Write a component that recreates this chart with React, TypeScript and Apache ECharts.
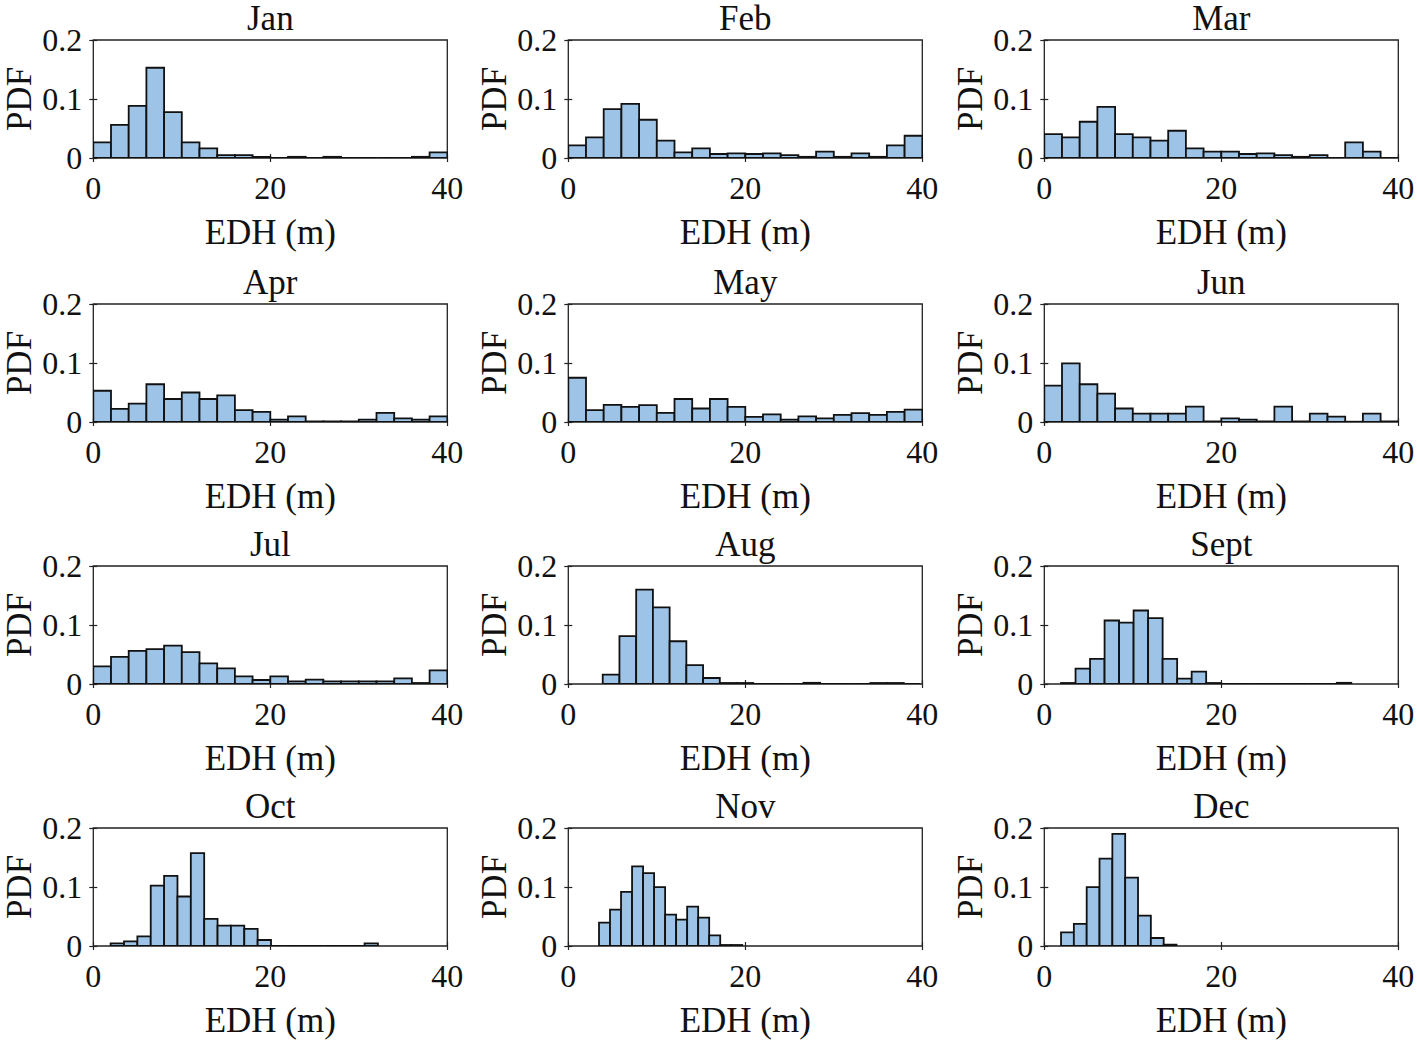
import React, { useEffect, useRef } from "react";
import * as echarts from "echarts";

const months = ["Jan", "Feb", "Mar", "Apr", "May", "Jun", "Jul", "Aug", "Sept", "Oct", "Nov", "Dec"];

// PDF value of each histogram bin
const janPdf = [0.0265, 0.0563, 0.0885, 0.153, 0.0777, 0.0265, 0.0163, 0.005, 0.005, 0.002, 0, 0.002, 0, 0.002, 0, 0, 0, 0, 0.002, 0.0096];
const febPdf = [0.0214, 0.035, 0.0828, 0.0918, 0.0648, 0.0293, 0.0096, 0.0163, 0.0068, 0.0079, 0.0068, 0.0079, 0.005, 0.002, 0.0107, 0.002, 0.0079, 0.002, 0.0214, 0.0377];
const marPdf = [0.0406, 0.035, 0.0614, 0.0868, 0.0406, 0.035, 0.0293, 0.0462, 0.0163, 0.0107, 0.0107, 0.0068, 0.0079, 0.005, 0.002, 0.005, 0, 0.0265, 0.0107, 0];
const aprPdf = [0.053, 0.0223, 0.031, 0.064, 0.039, 0.05, 0.039, 0.045, 0.02, 0.017, 0.004, 0.0097, 0.001, 0.001, 0.001, 0.004, 0.0154, 0.0063, 0.004, 0.0097];
const mayPdf = [0.075, 0.02, 0.029, 0.0257, 0.0286, 0.0154, 0.039, 0.0229, 0.039, 0.0257, 0.0086, 0.013, 0.004, 0.0097, 0.0063, 0.012, 0.0149, 0.012, 0.017, 0.021];
const junPdf = [0.0617, 0.0994, 0.064, 0.048, 0.0229, 0.0143, 0.0143, 0.0143, 0.026, 0.001, 0.0063, 0.004, 0.001, 0.026, 0.001, 0.0143, 0.009, 0.0005, 0.0143, 0.001];
const julPdf = [0.03, 0.046, 0.056, 0.059, 0.065, 0.054, 0.035, 0.0266, 0.013, 0.0068, 0.013, 0.0045, 0.0074, 0.0045, 0.0045, 0.0045, 0.0045, 0.0096, 0.0017, 0.023];
const augPdf = [0.0159, 0.081, 0.16, 0.13, 0.0725, 0.032, 0.0102, 0.0017, 0.0017, 0, 0, 0, 0.002, 0, 0, 0, 0.0017, 0.0017, 0];
const sepPdf = [0.0017, 0.026, 0.0425, 0.1076, 0.104, 0.1246, 0.1116, 0.0425, 0.009, 0.021, 0.0017, 0, 0, 0, 0, 0, 0, 0, 0, 0.002];
const octPdf = [0.0045, 0.0079, 0.0164, 0.1025, 0.119, 0.0839, 0.1575, 0.0459, 0.0346, 0.0346, 0.0289, 0.0102, 0, 0, 0, 0, 0, 0, 0, 0.0045];
const novPdf = [0.0397, 0.0618, 0.0918, 0.1348, 0.1235, 0.0997, 0.0533, 0.0448, 0.0669, 0.0482, 0.0181, 0.0017, 0.0017];
const decPdf = [0.0232, 0.0374, 0.0997, 0.148, 0.19, 0.116, 0.0516, 0.0136, 0.0023];

const monthPdf = [janPdf, febPdf, marPdf, aprPdf, mayPdf, junPdf, julPdf, augPdf, sepPdf, octPdf, novPdf, decPdf];

// Histogram bin definitions (first edge and bin width, metres)
const binStart = [0, 0, 0, 0, 0, 0, 0, 3.89, 1.89, 1.96, 3.47, 1.89];
const binWidth = [2, 2, 2, 2, 2, 2, 2, 1.89, 1.64, 1.51, 1.245, 1.45];

const xTicks = [0, 20, 40];
const yTicks = [0, 0.1, 0.2];

const xAxisName = "EDH (m)";
const yAxisName = "PDF";

const FONT = "'Liberation Serif', 'Times New Roman', serif";
const FS = 32;
const FS_LABEL = 35;
const TXT = "#111";
const AX = "#222";
const FILL = "#9dc3e6";
const EDGE = "#111";

const colLefts = [93.3, 568.3, 1044.3];
const rowTops = [40, 304, 566, 828];
const plotW = 354;
const plotH = 118;

function buildOption() {
  const grid: any[] = [];
  const xAxis: any[] = [];
  const yAxis: any[] = [];
  const series: any[] = [];
  const graphic: any[] = [];

  months.forEach((m, i) => {
    const r = Math.floor(i / 3);
    const c = i % 3;
    const left = colLefts[c];
    const top = rowTops[r];
    grid.push({
      left,
      top,
      width: plotW,
      height: plotH,
      show: true,
      borderColor: AX,
      borderWidth: 1.3,
      backgroundColor: "transparent",
      containLabel: false,
      outerBoundsMode: "none",
    });
    const xBase = {
      gridIndex: i,
      type: "value",
      min: xTicks[0],
      max: xTicks[xTicks.length - 1],
      interval: xTicks[1] - xTicks[0],
      splitLine: { show: false },
      axisLine: { show: false },
      axisTick: { show: true, inside: true, length: 4, lineStyle: { color: AX, width: 1.2 } },
    };
    xAxis.push({
      ...xBase,
      position: "bottom",
      axisLabel: { show: true, fontFamily: FONT, fontSize: FS, color: TXT, margin: 14 },
      name: xAxisName,
      nameLocation: "middle",
      nameGap: 57,
      nameTextStyle: { fontFamily: FONT, fontSize: FS_LABEL, color: TXT },
    });
    xAxis.push({ ...xBase, position: "top", axisLabel: { show: false } });
    const yBase = {
      gridIndex: i,
      type: "value",
      min: yTicks[0],
      max: yTicks[yTicks.length - 1],
      interval: yTicks[1] - yTicks[0],
      splitLine: { show: false },
      axisLine: { show: false },
      axisTick: { show: true, inside: true, length: 4, lineStyle: { color: AX, width: 1.2 } },
    };
    yAxis.push({
      ...yBase,
      position: "left",
      axisLabel: {
        show: true,
        fontFamily: FONT,
        fontSize: FS,
        color: TXT,
        margin: 11,
        formatter: (v: number) => (v === 0 ? "0" : (Math.round(v * 10) / 10).toString()),
      },
      name: yAxisName,
      nameLocation: "middle",
      nameGap: 57,
      nameRotate: 90,
      nameTextStyle: { fontFamily: FONT, fontSize: FS_LABEL, lineHeight: 33, color: TXT },
    });
    yAxis.push({ ...yBase, position: "right", axisLabel: { show: false } });

    const vals = monthPdf[i];
    const data = vals.map((v, k) => [binStart[i] + k * binWidth[i], binStart[i] + (k + 1) * binWidth[i], v]);
    series.push({
      type: "custom",
      xAxisIndex: i * 2,
      yAxisIndex: i * 2,
      data,
      clip: true,
      renderItem: (params: any, api: any) => {
        const p0 = api.coord([api.value(0), 0]);
        const p1 = api.coord([api.value(1), api.value(2)]);
        return {
          type: "rect",
          shape: { x: p0[0], y: p1[1], width: p1[0] - p0[0], height: p0[1] - p1[1] },
          style: { fill: FILL, stroke: EDGE, lineWidth: 1.8 },
        };
      },
    });

    graphic.push({
      type: "text",
      x: left + plotW / 2,
      y: top - 22,
      style: {
        text: m,
        fontFamily: FONT,
        fontSize: FS_LABEL,
        lineHeight: 35,
        fill: TXT,
        align: "center",
        verticalAlign: "middle",
      },
    });
  });

  return { animation: false, backgroundColor: "#fff", grid, xAxis, yAxis, series, graphic };
}

export default function App() {
  const ref = useRef<HTMLDivElement>(null);
  useEffect(() => {
    if (!ref.current) return;
    const chart = echarts.init(ref.current, undefined, { renderer: "svg" });
    chart.setOption(buildOption() as any);
    return () => chart.dispose();
  }, []);
  return (
    <div
      ref={ref}
      style={{ position: "absolute", left: 0, top: 0, width: 1417, height: 1041, background: "#fff" }}
    />
  );
}
